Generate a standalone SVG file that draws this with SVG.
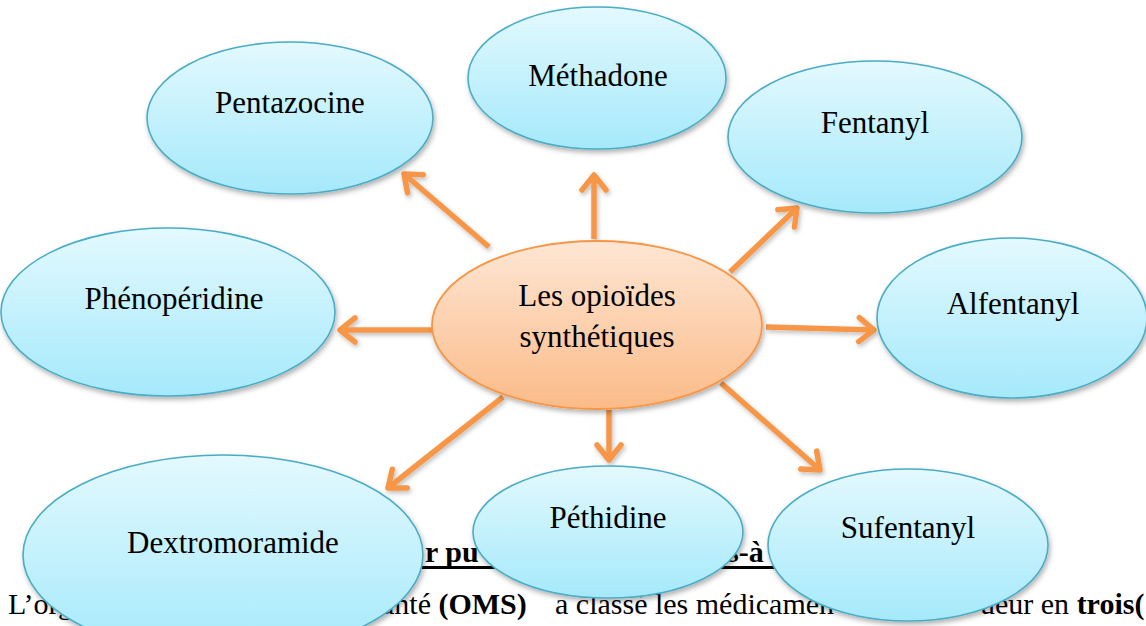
<svg xmlns="http://www.w3.org/2000/svg" width="1146" height="626" viewBox="0 0 1146 626">
<defs>
<linearGradient id="gBlue" x1="0" y1="0" x2="0" y2="1">
<stop offset="0" stop-color="#e3f9fe"/>
<stop offset="1" stop-color="#a5e9fb"/>
</linearGradient>
<linearGradient id="gOrange" x1="0" y1="0" x2="0" y2="1">
<stop offset="0" stop-color="#fee6d4"/>
<stop offset="1" stop-color="#fbbb88"/>
</linearGradient>
<filter id="sh" x="-10%" y="-10%" width="125%" height="130%">
<feDropShadow dx="1.5" dy="3" stdDeviation="2.5" flood-color="#000" flood-opacity="0.3"/>
</filter>
<filter id="shL" filterUnits="userSpaceOnUse" x="0" y="0" width="1146" height="626">
<feDropShadow dx="1.5" dy="2.5" stdDeviation="2" flood-color="#000" flood-opacity="0.25"/>
</filter>
<marker id="ah" markerUnits="userSpaceOnUse" markerWidth="40" markerHeight="40" viewBox="-20 -20 40 40" refX="0" refY="0" orient="auto" overflow="visible">
<path d="M -15 -12 L 0 0 L -15 12" fill="none" stroke="#f79646" stroke-width="5.5" stroke-linecap="round" stroke-linejoin="round"/>
</marker>
<style>
.bg{font-family:"Liberation Serif","Times New Roman",serif;font-size:30px;fill:#000}
.b{font-weight:bold}
.node{fill:url(#gBlue);stroke:#4bacc6;stroke-width:1.6;filter:url(#sh)}
.center{fill:url(#gOrange);stroke:#f79646;stroke-width:1.8;filter:url(#sh)}
.lbl{font-family:"Liberation Serif","Times New Roman",serif;font-size:31px;fill:#000;text-anchor:middle}
.con{stroke:#f79646;stroke-width:5.5;fill:none;marker-end:url(#ah)}
</style>
</defs>
<rect width="1146" height="626" fill="#fff"/>
<g id="background-text">
<text class="bg b" x="425" y="562">r pu</text>
<text class="bg b" x="727" y="562">s-à</text>
<rect x="422" y="566" width="354" height="3" fill="#000"/>
<text class="bg" x="8" y="614">L’org</text>
<text class="bg" x="381" y="614">anté <tspan class="b">(OMS)</tspan></text>
<text class="bg" x="555" y="614">a classé les médicamen</text>
<text class="bg" x="980" y="614">ueur en <tspan class="b">trois(</tspan></text>
</g>
<g id="connectors" filter="url(#shL)">
<line class="con" x1="489" y1="247" x2="404" y2="174"/>
<line class="con" x1="594" y1="239" x2="594" y2="175"/>
<line class="con" x1="730" y1="272" x2="797" y2="208"/>
<line class="con" x1="766" y1="327" x2="874" y2="330"/>
<line class="con" x1="432" y1="330" x2="340" y2="330"/>
<line class="con" x1="503" y1="397" x2="388" y2="488"/>
<line class="con" x1="609" y1="410" x2="609" y2="460"/>
<line class="con" x1="721" y1="383" x2="820" y2="470"/>
</g>
<g id="node-center">
<ellipse class="center" cx="597" cy="325" rx="165" ry="84"/>
<text class="lbl" x="597" y="306">Les opioïdes</text>
<text class="lbl" x="597" y="347">synthétiques</text>
</g>
<g id="node-pentazocine">
<ellipse class="node" cx="290" cy="118" rx="143" ry="76"/>
<text class="lbl" x="290" y="113">Pentazocine</text>
</g>
<g id="node-methadone">
<ellipse class="node" cx="597" cy="78" rx="129" ry="71"/>
<text class="lbl" x="598" y="86">Méthadone</text>
</g>
<g id="node-fentanyl">
<ellipse class="node" cx="875" cy="137" rx="147" ry="76"/>
<text class="lbl" x="875" y="133">Fentanyl</text>
</g>
<g id="node-alfentanyl">
<ellipse class="node" cx="1012" cy="318" rx="135" ry="80"/>
<text class="lbl" x="1013" y="314">Alfentanyl</text>
</g>
<g id="node-phenoperidine">
<ellipse class="node" cx="168" cy="312" rx="167" ry="84"/>
<text class="lbl" x="174" y="309">Phénopéridine</text>
</g>
<g id="node-dextromoramide">
<ellipse class="node" cx="223" cy="555" rx="200" ry="100"/>
<text class="lbl" x="233" y="553">Dextromoramide</text>
</g>
<g id="node-pethidine">
<ellipse class="node" cx="608" cy="532" rx="135" ry="66"/>
<text class="lbl" x="608" y="528">Péthidine</text>
</g>
<g id="node-sufentanyl">
<ellipse class="node" cx="908" cy="545" rx="140" ry="76"/>
<text class="lbl" x="908" y="538">Sufentanyl</text>
</g>
</svg>
